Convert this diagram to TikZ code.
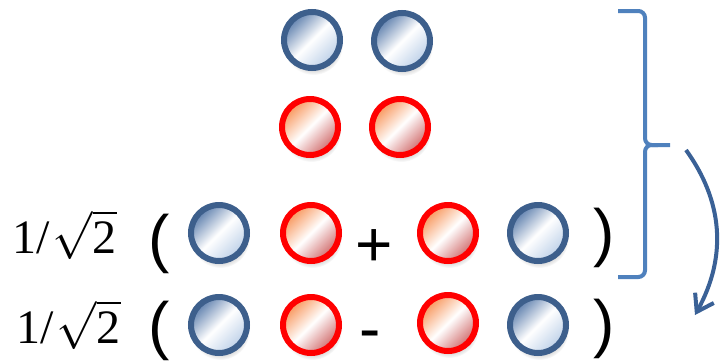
\RequirePackage{fix-cm}
\documentclass[tikz,border=0pt]{standalone}
\usepackage{fontspec}
\setmainfont{Liberation Serif}
\newfontfamily\arialf{Liberation Sans}
\usetikzlibrary{shadows,fadings,arrows.meta}
\definecolor{bborder}{HTML}{3D5F8C}
\definecolor{bdark}{HTML}{5F80AE}
\definecolor{blight}{HTML}{BDD0E8}
\definecolor{rborder}{HTML}{FF0000}
\definecolor{rdark}{HTML}{F8955A}
\definecolor{rlight}{HTML}{D06A6A}
\definecolor{brace}{HTML}{4F81BD}
\definecolor{arrowc}{HTML}{3A6196}
\tikzset{
  ball/.style={circle, minimum size=42pt, inner sep=0pt, line width=4.5pt,
    circular drop shadow={opacity=0.25, shadow xshift=1pt, shadow yshift=-4pt, shadow scale=1.05}},
  blueball/.style={ball, draw=bborder, top color=bdark, bottom color=blight, middle color=white, shading angle=45},
  redball/.style={ball, draw=rborder, top color=rdark, bottom color=rlight, middle color=white, shading angle=45},
  coef/.style={anchor=base west, inner sep=0pt, font=\fontsize{36}{42}\selectfont},
  sym/.style={anchor=base, inner sep=0pt, font=\arialf\fontsize{48}{54}\selectfont},
}
\begin{document}
\begin{tikzpicture}[x=0.75pt,y=-0.75pt]
\useasboundingbox (0,0) rectangle (724,361);
% top rows
\node[blueball] (b1) at (312,40) {};
\node[blueball] (b2) at (402,41) {};
\node[redball] (r1) at (310,127) {};
\node[redball] (r2) at (400,127) {};
% row 3
\node[coef] (c3) at (12,253) {1/\kern2.5pt$\sqrt{\mbox{2}}$};
\node[sym] (lp3) at (159,260) {(};
\node[blueball] (b31) at (219,233) {};
\node[redball] (r31) at (311,233) {};
\node[sym] (plus) at (374.5,266) {+};
\node[redball] (r32) at (448,233) {};
\node[blueball] (b32) at (538,233) {};
\node[sym] (rp3) at (604,254) {)};
% row 4
\node[coef] (c4) at (16,343) {1/\kern2.5pt$\sqrt{\mbox{2}}$};
\node[sym] (lp4) at (159,347) {(};
\node[blueball] (b41) at (219,325) {};
\node[redball] (r41) at (311,325) {};
\node[sym] (minus) at (370,350) {-};
\node[redball] (r42) at (448,323) {};
\node[blueball] (b42) at (538,325) {};
\node[sym] (rp4) at (604,345) {)};
% brace
\coordinate (bt) at (618,11);
\coordinate (bm) at (645,145);
\coordinate (btip) at (670,145);
\coordinate (bb) at (618,277);
\draw[brace, line width=3pt, rounded corners=5pt] (bt) -| (bm) -- (btip);
\draw[brace, line width=3pt, rounded corners=5pt] (658,145) -| (645,277) -- (bb);
% arrow
\coordinate (as) at (686,150);
\coordinate (ae) at (695,315);
\draw[arrowc, line width=3pt, -{Straight Barb[length=12pt,width=16pt]}] (as) .. controls (722,200) and (728,255) .. (ae);
\end{tikzpicture}
\end{document}
